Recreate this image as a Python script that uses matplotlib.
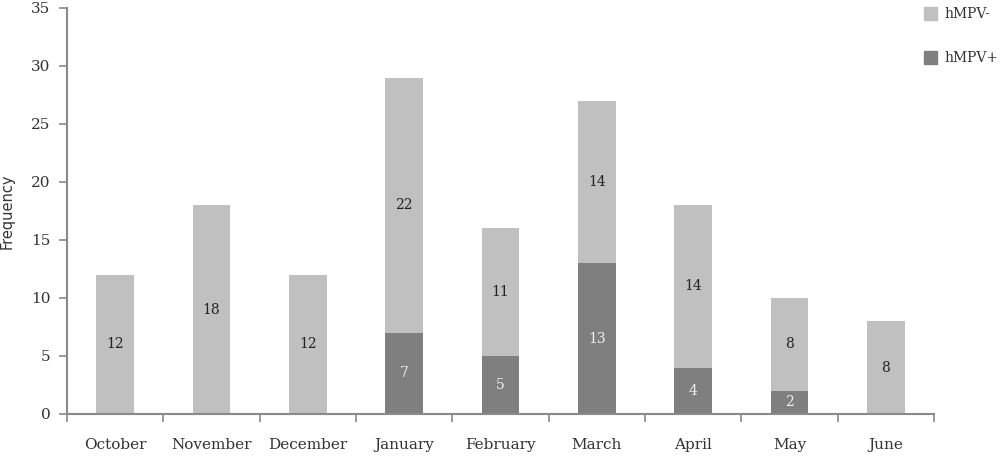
import matplotlib
matplotlib.use("Agg")
import matplotlib.pyplot as plt
import numpy as np
from matplotlib.patches import Patch

months = ["October", "November", "December", "January", "February", "March", "April", "May", "June"]
hmpv_pos = [0, 0, 0, 7, 5, 13, 4, 2, 0]
hmpv_neg = [12, 18, 12, 22, 11, 14, 14, 8, 8]
yticks = [0, 5, 10, 15, 20, 25, 30, 35]

light = "#c0c0c0"
dark = "#7f7f7f"
axc = "#8a8a8a"
font = "DejaVu Serif"

fig = plt.figure(figsize=(10, 4.65), dpi=100)
ax = fig.add_axes([0.067, 0.1097, 0.867, 0.8733])

x = np.arange(len(months))
w = 0.39
ax.bar(x, hmpv_pos, w, color=dark, zorder=2)
ax.bar(x, hmpv_neg, w, bottom=hmpv_pos, color=light, zorder=2)

for i in range(len(months)):
    if hmpv_pos[i] > 0:
        ax.text(x[i], hmpv_pos[i] / 2, str(hmpv_pos[i]), ha="center", va="center",
                color="#eeeeee", fontsize=10, family=font, zorder=3)
    ax.text(x[i], hmpv_pos[i] + hmpv_neg[i] / 2, str(hmpv_neg[i]), ha="center", va="center",
            color="#222222", fontsize=10, family=font, weight="medium", zorder=3)

ax.set_xlim(-0.5, len(months) - 0.5)
ax.set_ylim(0, 35)
ax.set_yticks(yticks)
ax.set_yticklabels([str(t) for t in yticks], family=font, fontsize=11, color="#333333")
ax.set_xticks(x)
ax.set_xticklabels(months, family=font, fontsize=11, color="#333333")
ax.set_xticks(np.arange(-0.5, len(months)), minor=True)
ax.tick_params(axis="x", which="major", length=0, pad=17)
ax.tick_params(axis="x", which="minor", length=6, color=axc, width=1.2, direction="out")
ax.tick_params(axis="y", length=6, color=axc, width=1.2, direction="out", pad=6)

for s in ["top", "right"]:
    ax.spines[s].set_visible(False)
for s in ["left", "bottom"]:
    ax.spines[s].set_color(axc)
    ax.spines[s].set_linewidth(1.5)

ax.set_ylabel("Frequency", fontsize=10.5, color="#333333", labelpad=12)

handles = [Patch(color=light, label="hMPV-"), Patch(color=dark, label="hMPV+")]
fig.legend(handles=handles, loc="upper left", bbox_to_anchor=(0.911, 1.011), frameon=False,
           handlelength=1.0, handleheight=1.0, handletextpad=0.5, labelspacing=2.15,
           prop={"family": font, "size": 10}, labelcolor="#333333")

fig.savefig("out.png", dpi=100)
